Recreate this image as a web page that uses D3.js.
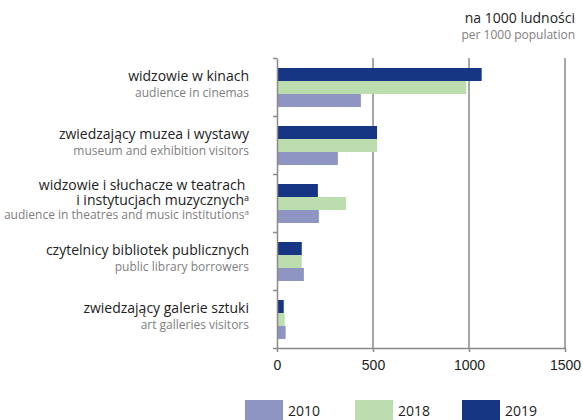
<!DOCTYPE html>
<html>
<head>
<meta charset="utf-8">
<script src="https://cdn.jsdelivr.net/npm/d3@7"></script>
<style>
  body { margin: 0; background: #fff; }
  svg { display: block; font-family: 'Open Sans', sans-serif; }
  .axis path, .axis line { stroke: #8a8a8a; stroke-width: 1.5; }
  .axis text { font-size: 14px; fill: #222; }
  .grid line { stroke: #8a8a8a; stroke-width: 1.5; }
  .lab-pl { font-size: 14px; fill: #222; }
  .lab-en { font-size: 12px; fill: #808080; }
</style>
</head>
<body>
<div id="chart"></div>
<script>
// data
const categories = ['kina', 'muzea', 'teatry', 'biblioteki', 'galerie'];
const labelsPl = [
  ['widzowie w kinach'],
  ['zwiedzający muzea i wystawy'],
  ['widzowie i słuchacze w teatrach ', 'i instytucjach muzycznych'],
  ['czytelnicy bibliotek publicznych'],
  ['zwiedzający galerie sztuki']
];
const labelsEn = [
  'audience in cinemas',
  'museum and exhibition visitors',
  'audience in theatres and music institutions',
  'public library borrowers',
  'art galleries visitors'
];
const footnote = [false, false, true, false, false];
const years = ['2019', '2018', '2010'];
const values2019 = [1066, 521, 213, 129, 35];
const values2018 = [986, 521, 359, 129, 40];
const values2010 = [437, 317, 218, 140, 45];
const xTicks = [0, 500, 1000, 1500];
const legendYears = ['2010', '2018', '2019'];
const colors = { '2010': '#8f95c2', '2018': '#bcdeae', '2019': '#163683' };

const w = 583;
const h = 420;
const x0 = 277;
const x1 = 565;
const yTop = 58;
const yBottom = 348;

const rows = categories.map((c, i) => ({
  cat: c,
  '2019': values2019[i],
  '2018': values2018[i],
  '2010': values2010[i]
}));

//Scales
const xScale = d3.scaleLinear().domain([0, 1500]).range([x0, x1]);
const yScale = d3.scaleBand().domain(categories).range([yTop, yBottom]);
const ySub = d3.scaleBand().domain(years).range([10, 49]);

const svg = d3.select('#chart')
              .append('svg')
              .attr('width', w)
              .attr('height', h);

//Gridlines
svg.append('g')
   .attr('class', 'grid')
   .selectAll('line')
   .data(xTicks.slice(1))
   .enter()
   .append('line')
   .attr('x1', d => xScale(d))
   .attr('x2', d => xScale(d))
   .attr('y1', yTop)
   .attr('y2', yBottom);

//Bars
const groups = svg.selectAll('g.cat')
   .data(rows)
   .enter()
   .append('g')
   .attr('class', 'cat')
   .attr('transform', d => `translate(0, ${yScale(d.cat)})`);

groups.selectAll('rect')
   .data(d => years.map(y => ({ year: y, value: d[y] })))
   .enter()
   .append('rect')
   .attr('x', xScale(0))
   .attr('y', d => ySub(d.year))
   .attr('width', d => xScale(d.value) - xScale(0))
   .attr('height', ySub.bandwidth())
   .attr('fill', d => colors[d.year]);

//Axes
const xAxis = d3.axisBottom(xScale)
  .tickValues(xTicks)
  .tickFormat(d3.format('d'))
  .tickSize(4)
  .tickSizeOuter(0)
  .tickPadding(8);
svg.append('g')
   .attr('class', 'axis')
   .attr('transform', `translate(0, ${yBottom})`)
   .call(xAxis);

const yTickScale = d3.scaleLinear().domain([0, 5]).range([yTop, yBottom]);
const yAxis = d3.axisLeft(yTickScale).tickValues([0, 1, 2, 3, 4, 5]).tickSize(4).tickSizeOuter(0).tickFormat('');
svg.append('g')
   .attr('class', 'axis')
   .attr('transform', `translate(${x0}, 0)`)
   .call(yAxis);

//Category labels
const labX = 249;
labelsPl.forEach((lines, i) => {
  const c = yScale(categories[i]) + yScale.bandwidth() / 2;
  const n = lines.length;
  lines.forEach((line, j) => {
    const t = svg.append('text')
       .attr('class', 'lab-pl')
       .attr('xml:space', 'preserve')
       .attr('x', labX)
       .attr('y', n > 1 ? c - 13 + j * 14.5 : c - 6)
       .attr('text-anchor', 'end')
       .text(line);
    if (footnote[i] && j === n - 1) {
      t.append('tspan').attr('font-size', '9px').attr('dy', -4).text('a');
    }
  });
  const e = svg.append('text')
     .attr('class', 'lab-en')
     .attr('x', labX)
     .attr('y', n > 1 ? c + 16 : c + 10)
     .attr('text-anchor', 'end')
     .text(labelsEn[i]);
  if (footnote[i]) {
    e.append('tspan').attr('font-size', '8px').attr('dy', -4).text('a');
  }
});

//Unit labels
svg.append('text')
   .attr('class', 'lab-pl')
   .attr('x', 575)
   .attr('y', 23)
   .attr('text-anchor', 'end')
   .text('na 1000 ludności');
svg.append('text')
   .attr('class', 'lab-en')
   .attr('font-size', '11.8px')
   .attr('x', 575)
   .attr('y', 39)
   .attr('text-anchor', 'end')
   .text('per 1000 population');

//Legend
const legX = d3.scaleOrdinal().domain(legendYears).range([245, 355, 462]);
const leg = svg.selectAll('g.leg')
   .data(legendYears)
   .enter()
   .append('g')
   .attr('class', 'leg')
   .attr('transform', d => `translate(${legX(d)}, 400)`);
leg.append('rect')
   .attr('width', 38)
   .attr('height', 20)
   .attr('fill', d => colors[d]);
leg.append('text')
   .attr('x', 43)
   .attr('y', 16)
   .attr('font-size', '14px')
   .attr('fill', '#222')
   .text(d => d);
</script>
</body>
</html>
